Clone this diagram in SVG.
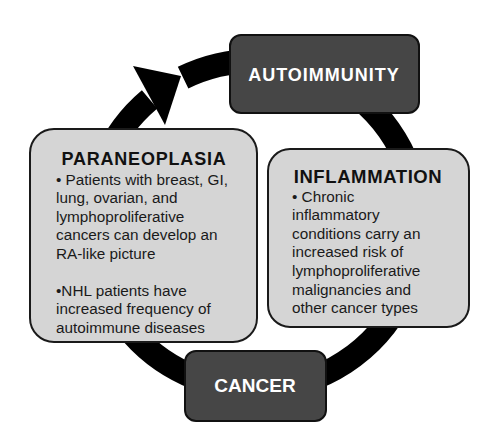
<svg xmlns="http://www.w3.org/2000/svg" width="479" height="434" viewBox="0 0 479 434">
  <style>
    .dark { fill: #464646; stroke: #111; stroke-width: 2; }
    .light { fill: #d5d5d5; stroke: #1a1a1a; stroke-width: 2; }
    .dtitle { font-family: "Liberation Sans", Arial, sans-serif; font-weight: bold; fill: #ffffff; text-anchor: middle; }
    .ltitle { font-family: "Liberation Sans", Arial, sans-serif; font-weight: bold; fill: #111; text-anchor: middle; }
    .body { font-family: "Liberation Sans", Arial, sans-serif; font-size: 15.3px; fill: #1a1a1a; }
  </style>
  <rect width="479" height="434" fill="#ffffff"/>
  <g id="connectors">
    <path d="M183.1,77.6 A164,164 0 1 1 149.6,99.4" fill="none" stroke="#000" stroke-width="24"/>
    <polygon points="133,66 181,76 165,125" fill="#000"/>
  </g>
  <g id="autoimmunity">
    <rect class="dark" x="230" y="35" width="189" height="78" rx="11"/>
    <text class="dtitle" x="324" y="81" font-size="18" letter-spacing="1">AUTOIMMUNITY</text>
  </g>
  <g id="cancer">
    <rect class="dark" x="185" y="351" width="141" height="70" rx="11"/>
    <text class="dtitle" x="255" y="392" font-size="19">CANCER</text>
  </g>
  <g id="paraneoplasia">
    <rect class="light" x="30" y="129" width="227" height="213" rx="24"/>
    <text class="ltitle" x="144" y="165" font-size="18" letter-spacing="0.8">PARANEOPLASIA</text>
    <text class="body" x="56">
      <tspan x="56" y="185">• Patients with breast, GI,</tspan>
      <tspan x="56" y="203.3">lung, ovarian, and</tspan>
      <tspan x="56" y="221.7">lymphoproliferative</tspan>
      <tspan x="56" y="240">cancers can develop an</tspan>
      <tspan x="56" y="259">RA-like picture</tspan>
      <tspan x="56" y="296">•NHL patients have</tspan>
      <tspan x="56" y="314.3">increased frequency of</tspan>
      <tspan x="56" y="332.7">autoimmune diseases</tspan>
    </text>
  </g>
  <g id="inflammation">
    <rect class="light" x="268" y="149" width="201" height="178" rx="22"/>
    <text class="ltitle" x="368" y="183" font-size="18.5" letter-spacing="0.6">INFLAMMATION</text>
    <text class="body" x="292">
      <tspan x="292" y="201.7">• Chronic</tspan>
      <tspan x="292" y="220">inflammatory</tspan>
      <tspan x="292" y="239">conditions carry an</tspan>
      <tspan x="292" y="257.3">increased risk of</tspan>
      <tspan x="292" y="276">lymphoproliferative</tspan>
      <tspan x="292" y="295">malignancies and</tspan>
      <tspan x="292" y="313.3">other cancer types</tspan>
    </text>
  </g>
</svg>
